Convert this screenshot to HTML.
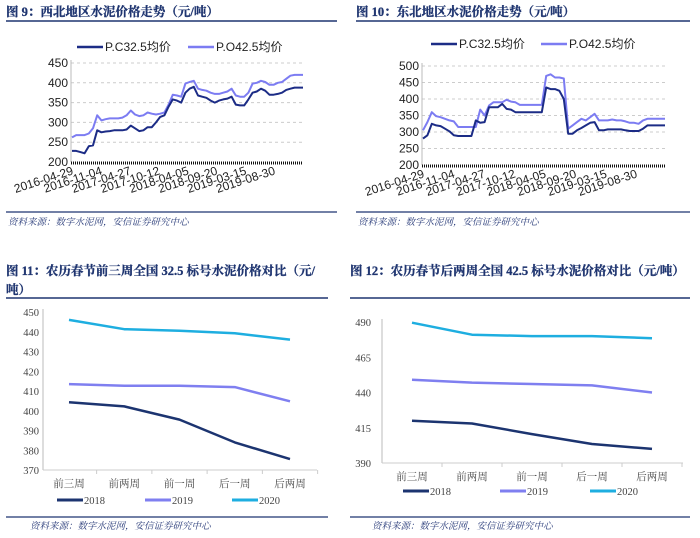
<!DOCTYPE html>
<html><head><meta charset="utf-8"><style>
body{margin:0;background:#fff;}
svg{display:block;font-family:"Liberation Sans","Noto Sans CJK SC",sans-serif;}
.t{font-family:"Liberation Serif","Noto Serif CJK SC",serif;font-weight:bold;fill:#1f3570;font-size:12.5px;stroke:#1f3570;stroke-width:0.3;}
.src{font-family:"Liberation Serif","Noto Serif CJK SC",serif;font-style:italic;fill:#2a3c7a;font-size:9.5px;}
.tk{font-size:12px;fill:#222;}
.tk2{font-family:"Liberation Serif","Noto Serif CJK SC",serif;font-size:10.5px;fill:#444;}
</style></head><body>
<svg id="s" width="700" height="538" xmlns="http://www.w3.org/2000/svg">
<text class="t" x="6" y="16">图 9：西北地区水泥价格走势（元/吨）</text>
<line x1="6" y1="21" x2="337" y2="21" stroke="#1f3570" stroke-width="1.5"/>
<line x1="6" y1="212" x2="337" y2="212" stroke="#1f3570" stroke-width="1.2"/>
<text class="src" x="8" y="225">资料来源：数字水泥网，安信证券研究中心</text>
<text class="t" x="356" y="16">图 10：东北地区水泥价格走势（元/吨）</text>
<line x1="356" y1="21" x2="690" y2="21" stroke="#1f3570" stroke-width="1.5"/>
<line x1="356" y1="212" x2="690" y2="212" stroke="#1f3570" stroke-width="1.2"/>
<text class="src" x="358" y="225">资料来源：数字水泥网，安信证券研究中心</text>
<text class="t" x="6" y="275">图 11：农历春节前三周全国 32.5 标号水泥价格对比（元/</text>
<text class="t" x="6" y="294">吨）</text>
<line x1="6" y1="298" x2="328" y2="298" stroke="#1f3570" stroke-width="1.5"/>
<line x1="6" y1="517" x2="328" y2="517" stroke="#1f3570" stroke-width="1.2"/>
<text class="src" x="30" y="529">资料来源：数字水泥网，安信证券研究中心</text>
<text class="t" x="350" y="275">图 12：农历春节后两周全国 42.5 标号水泥价格对比（元/吨）</text>
<line x1="350" y1="298" x2="690" y2="298" stroke="#1f3570" stroke-width="1.5"/>
<line x1="350" y1="517" x2="690" y2="517" stroke="#1f3570" stroke-width="1.2"/>
<text class="src" x="372" y="529">资料来源：数字水泥网，安信证券研究中心</text>
</svg>
<script>
const dateLabels=["2016-04-29","2016-11-04","2017-04-27","2017-10-12","2018-04-05","2018-09-20","2019-03-15","2019-08-30"];
const nwPC=[228,228,225,222,240,242,280,275,277,278,280,280,280,282,292,285,278,280,288,288,300,314,318,340,358,355,350,375,385,390,368,365,362,355,350,355,358,360,365,345,343,343,358,375,378,385,380,370,370,372,375,382,385,388,388,388];
const nwPO=[262,268,268,268,272,285,318,305,308,310,310,310,312,318,330,320,316,318,325,322,320,322,325,345,370,368,365,398,402,405,385,382,380,375,372,372,375,378,385,368,365,365,375,398,400,405,402,395,395,400,402,410,418,420,420,420];
const nePC=[280,290,325,320,318,310,302,290,288,288,288,288,335,328,330,375,375,375,385,370,368,360,360,360,360,360,360,360,435,430,430,425,400,295,295,305,312,320,328,330,305,305,308,308,308,308,305,303,303,303,310,320,320,320,320,320];
const nePO=[305,330,360,348,345,340,335,332,315,315,315,315,315,368,350,380,390,390,390,398,392,390,382,382,382,382,382,382,470,475,465,465,462,310,320,330,340,335,345,355,335,335,335,338,335,335,332,328,328,325,335,340,340,340,340,340];
const nwTicks=[200,250,300,350,400,450];
const neTicks=[200,250,300,350,400,450,500];
const weeks=["前三周","前两周","前一周","后一周","后两周"];
const c11_2018=[404.3,402.2,395.5,384,375.5];
const c11_2019=[413.5,412.7,412.7,412,404.8];
const c11_2020=[446,441.3,440.5,439.2,436];
const c11Ticks=[370,380,390,400,410,420,430,440,450];
const c12_2018=[420,418,410.5,403.5,400];
const c12_2019=[449,447,446,445,440];
const c12_2020=[489.5,481,480,480,478.5];
const c12Ticks=[390,415,440,465,490];

const NS="http://www.w3.org/2000/svg";
const svg=document.getElementById('s');
function mk(t,a,txt){const e=document.createElementNS(NS,t);for(const k in a)e.setAttribute(k,a[k]);if(txt!==undefined)e.textContent=txt;svg.appendChild(e);return e;}

function lineChart(o){
  const ys=v=>o.y0-(v-o.vmin)/(o.vmax-o.vmin)*(o.y0-o.y1);
  o.ticks.forEach(t=>{
    if(o.grid&&t!==o.vmin){const g=mk('line',{x1:o.x0,x2:o.x1,y1:ys(t),y2:ys(t),stroke:'#ccc','stroke-dasharray':'3,3'});
      
      }
    const l=mk('text',{x:o.lx,y:ys(t)+4,'text-anchor':'end',class:o.tkc},String(t));
    
    
  });
  const ya=mk('line',{x1:o.x0,x2:o.x0,y1:o.y1-3,y2:o.y0,stroke:'#bbb'});
  
  
  o.series.forEach(s=>{
    const n=s.data.length;
    const xs=i=>o.cx0+i*(o.cx1-o.cx0)/(n-1);
    const pts=s.data.map((v,i)=>xs(i).toFixed(1)+','+ys(v).toFixed(1)).join(' ');
    const p=mk('polyline',{points:pts,fill:'none',stroke:s.color,'stroke-width':s.w,'stroke-linejoin':'round'});
    
    
  });
}

function timeChart(o,pc,po,ticks,labels){
  lineChart({x0:o.x0,x1:o.x1,y0:o.y0,y1:o.y1,cx0:o.x0+1,cx1:o.x1,vmin:ticks[0],vmax:ticks[ticks.length-1],ticks:ticks,grid:true,lx:o.x0-3,tkc:'tk',
    series:[{data:po,color:'#7c7cf2',w:2,name:'po425-line'},{data:pc,color:'#1c2c86',w:2,name:'pc325-line'}]});
  const ax=mk('line',{x1:o.x0,x2:o.x1,y1:o.y0+1,y2:o.y0+1,stroke:'#111','stroke-width':3,'stroke-dasharray':'1,1'});
  
  
  labels.forEach((t,i)=>{
    const x=o.x0+3+i*(o.x1-o.x0-30)/(labels.length-1);
    const e=mk('text',{x:x,y:o.y0+12,'text-anchor':'end',class:'tk',transform:`rotate(-18 ${x} ${o.y0+12})`},t);
    
    
  });
  const lg=[[o.lg1,'#1c2c86','P.C32.5均价','legend-pc325'],[o.lg2,'#7c7cf2','P.O42.5均价','legend-po425']];
  lg.forEach(a=>{
    const l=mk('line',{x1:a[0],x2:a[0]+26,y1:o.ly,y2:o.ly,stroke:a[1],'stroke-width':2.5});
    
    
    const t=mk('text',{x:a[0]+28,y:o.ly+4,class:'tk'},a[2]);
    
    
  });
}
timeChart({x0:71,x1:303,y0:162,y1:63,lg1:77,lg2:188,ly:47},nwPC,nwPO,nwTicks,dateLabels);
timeChart({x0:422,x1:665,y0:165,y1:66,lg1:431,lg2:541,ly:44},nePC,nePO,neTicks,dateLabels);

function catChart(o,d18,d19,d20,ticks){
  lineChart({x0:o.x0,x1:o.x1,y0:o.y0,y1:o.y1,cx0:o.cx0,cx1:o.cx1,vmin:ticks[0],vmax:ticks[ticks.length-1],ticks:ticks,grid:false,lx:o.lx,tkc:'tk2',
    series:[{data:d20,color:'#1eaee0',w:2.5,name:'series-2020'},{data:d19,color:'#7f7ff0',w:2.5,name:'series-2019'},{data:d18,color:'#1c3470',w:2.5,name:'series-2018'}]});
  const ax=mk('line',{x1:o.x0,x2:o.x1,y1:o.y0,y2:o.y0,stroke:'#ccc'});
  
  
  const step=(o.cx1-o.cx0)/(weeks.length-1);
  weeks.forEach((w,i)=>{
    const x=o.cx0+i*step;
    const t=mk('line',{x1:x+step/2,x2:x+step/2,y1:o.y0,y2:o.y0+4,stroke:'#ccc'});
    
    
    const e=mk('text',{x:x,y:o.y0+17,'text-anchor':'middle',class:'tk2'},w);
    
    
  });
  [['2018','#1c3470',o.l1],['2019','#7f7ff0',o.l2],['2020','#1eaee0',o.l3]].forEach(a=>{
    const l=mk('line',{x1:a[2],x2:a[2]+26,y1:o.ly,y2:o.ly,stroke:a[1],'stroke-width':3});
    
    
    const t=mk('text',{x:a[2]+27,y:o.ly+4,class:'tk2'},a[0]);
    
    
  });
}
catChart({x0:43,x1:317,y0:470,y1:312,cx0:69,cx1:290,lx:39,l1:57,l2:145,l3:232,ly:500},c11_2018,c11_2019,c11_2020,c11Ticks);
catChart({x0:382,x1:683,y0:463,y1:322,cx0:412,cx1:652,lx:371,l1:403,l2:500,l3:590,ly:491},c12_2018,c12_2019,c12_2020,c12Ticks);
</script>
</body></html>
